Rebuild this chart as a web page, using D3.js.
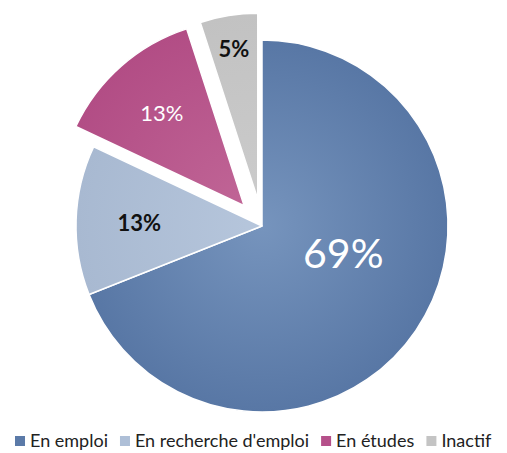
<!DOCTYPE html>
<html>
<head>
<meta charset="utf-8">
<script src="https://cdn.jsdelivr.net/npm/d3@7"></script>
<style>
  html, body { margin: 0; padding: 0; background: #fff; }
  svg { display: block; font-family: Lato, "Open Sans", sans-serif; }
</style>
</head>
<body>
<svg id="chart" width="507" height="453"></svg>
<script>
// data
var categories = ["En emploi", "En recherche d'emploi", "En études", "Inactif"];
var values = [69, 13, 13, 5];
var labels = ["69%", "13%", "13%", "5%"];

// styles
var fillInner = ["#7694bd", "#b6c6dc", "#c06596", "#cbcbcb"];
var fillOuter = ["#5877a5", "#a8b9d1", "#b24d85", "#c2c2c2"];
var legendColors = ["#5b7aa8", "#aebfd7", "#b5508a", "#c4c4c4"];
var labelColors = ["#fff", "#111", "#fff", "#111"];
var labelSizes = [41, 22, 22, 22];
var labelWeights = ["normal", "bold", "normal", "bold"];
var explode = [0, 0, 27, 27];
var labelRadius = [0.46, 0.66, 0.67, 0.82];
var labelShift = [-16, 0, 0, 0]; // degrees

var width = 507, height = 453;
var cx = 262, cy = 226, radius = 186;

var svg = d3.select("#chart");
var defs = svg.append("defs");

values.forEach(function(v, i) {
    var g = defs.append("radialGradient")
        .attr("id", "grad" + i)
        .attr("gradientUnits", "userSpaceOnUse")
        .attr("cx", 0).attr("cy", 0).attr("r", radius);
    g.append("stop").attr("offset", "0%").attr("stop-color", fillInner[i]);
    g.append("stop").attr("offset", "100%").attr("stop-color", fillOuter[i]);
});

var pie = d3.pie().sort(null).value(d => d);
var arcs = pie(values);
var arc = d3.arc().innerRadius(0).outerRadius(radius);

function offset(d, i) {
    var a = (d.startAngle + d.endAngle) / 2;
    return [Math.sin(a) * explode[i], -Math.cos(a) * explode[i]];
}

var slices = svg.append("g")
    .attr("transform", `translate(${cx},${cy})`)
    .selectAll("g")
    .data(arcs)
    .enter()
    .append("g")
    .attr("transform", (d, i) => `translate(${offset(d, i)})`);

slices.append("path")
    .attr("d", arc)
    .attr("fill", (d, i) => `url(#grad${i})`)
    .attr("stroke", "#fff")
    .attr("stroke-width", 1.5)
    .attr("stroke-linejoin", "round");

slices.append("text")
    .attr("transform", function(d, i) {
        var a = (d.startAngle + d.endAngle) / 2 + labelShift[i] * Math.PI / 180;
        var r = radius * labelRadius[i];
        return `translate(${Math.sin(a) * r},${-Math.cos(a) * r})`;
    })
    .attr("text-anchor", "middle")
    .attr("dominant-baseline", "central")
    .attr("fill", (d, i) => labelColors[i])
    .attr("font-size", (d, i) => labelSizes[i])
    .attr("font-weight", (d, i) => labelWeights[i])
    .text((d, i) => labels[i]);

// legend
var legend = svg.append("g");
var items = legend.selectAll("g")
    .data(categories)
    .enter()
    .append("g");

items.append("rect")
    .attr("width", 10).attr("height", 10)
    .attr("y", -11)
    .attr("fill", (d, i) => legendColors[i]);

items.append("text")
    .attr("x", 15)
    .attr("font-size", 18)
    .attr("fill", "#222")
    .text(d => d);

var x = 0, gap = 12;
items.each(function() {
    var w = this.getBBox().width;
    d3.select(this).attr("transform", `translate(${x},0)`);
    x += w + gap;
});
var total = x - gap;
legend.attr("transform", `translate(${(width - total) / 2},447)`);
</script>
</body>
</html>
